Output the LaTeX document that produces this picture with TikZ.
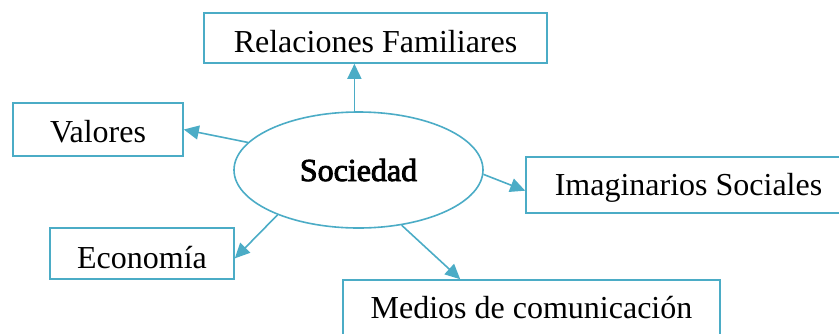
\documentclass[tikz,border=0pt]{standalone}
\usepackage{fontspec}
\setmainfont{Liberation Serif}
\newfontfamily\boldish[FakeBold=2.6]{Liberation Serif}
\usetikzlibrary{shapes.geometric,arrows.meta}
\definecolor{accent}{HTML}{4BACC6}
\begin{document}
\begin{tikzpicture}[x=1pt,y=-1pt,
  every node/.style={font=\fontsize{32}{38}\selectfont},
  topic/.style={draw=accent,line width=1.6pt,rectangle,inner sep=0pt,text depth=0pt,fill=white},
  hub/.style={draw=accent,line width=1.6pt,ellipse,inner sep=0pt,text depth=0pt,
    minimum width=249pt,minimum height=116pt,fill=white},
  link/.style={draw=accent,line width=1.6pt,-{Triangle[length=15pt,width=14pt]}}]
\useasboundingbox (0,0) rectangle (839,333);
\clip (0,0) rectangle (839,333);
\node[hub,text height=22pt,font=\fontsize{32}{38}\boldish] (soc) at (358.5,170) {Sociedad};
\node[topic,minimum width=343pt,minimum height=50pt,text height=28pt] (rel) at (375.5,38) {Relaciones Familiares};
\node[topic,minimum width=170pt,minimum height=53pt,text height=25pt] (val) at (98,129.5) {Valores};
\node[topic,minimum width=184pt,minimum height=51pt,text height=29pt] (eco) at (142,253.5) {Economía};
\node[topic,minimum width=325pt,minimum height=56pt,text height=20pt] (img) at (688.5,185) {Imaginarios Sociales};
\node[topic,minimum width=377pt,minimum height=56pt,text height=20pt] (med) at (531.5,308) {Medios de comunicación};
\draw[link] (soc.94) -- (soc.94 |- rel.south);
\draw[link] (soc.166) -- (val.east);
\draw[link] (soc.-2) -- (img.182);
\draw[link] (soc.209) -- (eco.-3);
\draw[link] (soc.-52) -- (med.158);
\end{tikzpicture}
\end{document}
